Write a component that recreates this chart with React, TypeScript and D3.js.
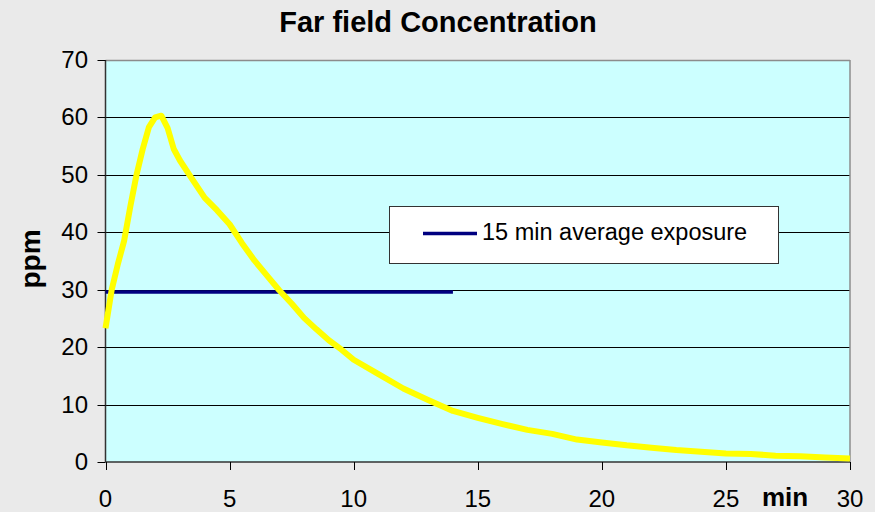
import React from "react";
import * as d3 from "d3";

// Far-field concentration over time (minutes, ppm)
const times = [0, 0.25, 0.5, 0.75, 1, 1.25, 1.5, 1.75, 2, 2.25, 2.5, 2.75, 3, 3.5, 4, 4.5, 5, 5.5, 6, 6.5, 7, 7.5, 8, 8.5, 9, 9.5, 10, 11, 12, 13, 14, 15, 16, 17, 18, 19, 20, 21, 22, 23, 24, 25, 26, 27, 28, 29, 30];
const concentration = [23.3, 30, 34.5, 38.5, 44.5, 50, 54.5, 58.3, 60, 60.3, 58.2, 54.5, 52.5, 49.2, 46, 43.8, 41.4, 38.1, 35.1, 32.5, 29.9, 27.6, 25.1, 23.1, 21.2, 19.6, 17.8, 15.3, 12.8, 10.8, 8.9, 7.7, 6.6, 5.6, 4.9, 3.9, 3.4, 2.9, 2.5, 2.1, 1.8, 1.5, 1.4, 1.1, 1.0, 0.8, 0.6];

// 15 minute average exposure
const avgTimes = [0, 14];
const avgValues = [29.6, 29.6];

const xTicks = [0, 5, 10, 15, 20, 25, 30];
const yTicks = [0, 10, 20, 30, 40, 50, 60, 70];

const W = 875;
const H = 512;
const FONT = "'Liberation Sans', Arial, sans-serif";

export default function App() {
  const x = d3.scaleLinear().domain([0, 30]).range([105.5, 850]);
  const y = d3.scaleLinear().domain([0, 70]).range([462, 60]);

  const line = d3
    .line<[number, number]>()
    .x((d) => x(d[0]))
    .y((d) => y(d[1]));

  const concPts: [number, number][] = times.map((t, i) => [t, concentration[i]]);
  const avgPts: [number, number][] = avgTimes.map((t, i) => [t, avgValues[i]]);

  const [x0, x1] = x.range();
  const [yb, yt] = y.range();

  return (
    <svg
      width={W}
      height={H}
      style={{ position: "fixed", left: 0, top: 0, display: "block" }}
      fontFamily={FONT}
    >
      <rect x={0} y={0} width={W} height={H} fill="#EAEAEA" />
      <text x={438} y={32} textAnchor="middle" fontSize={29} fontWeight="bold" fill="#000">
        Far field Concentration
      </text>

      {/* plot area */}
      <rect x={x0} y={yt} width={x1 - x0} height={yb - yt} fill="#CCFFFF" />
      {yTicks.filter((v) => v > 0 && v < 70).map((v) => (
        <line key={v} x1={x0} x2={x1} y1={Math.round(y(v)) + 0.5} y2={Math.round(y(v)) + 0.5} stroke="#000" strokeWidth={1} />
      ))}
      <line x1={x0} x2={x1} y1={yt + 0.5} y2={yt + 0.5} stroke="#8C8C8C" strokeWidth={1.5} />
      <line x1={x1} x2={x1} y1={yt} y2={yb} stroke="#8C8C8C" strokeWidth={1.5} />

      {/* axes */}
      <line x1={x0} x2={x0} y1={yt} y2={yb} stroke="#333" strokeWidth={1.5} />
      <line x1={x0} x2={x1} y1={yb} y2={yb} stroke="#333" strokeWidth={1.5} />
      {yTicks.map((v) => (
        <g key={v}>
          <line x1={x0 - 8} x2={x0} y1={Math.round(y(v)) + 0.5} y2={Math.round(y(v)) + 0.5} stroke="#000" />
          <text x={88} y={y(v) + 8} textAnchor="end" fontSize={24} fill="#000">
            {v}
          </text>
        </g>
      ))}
      {xTicks.map((v) => (
        <g key={v}>
          <line x1={Math.round(x(v)) + 0.5} x2={Math.round(x(v)) + 0.5} y1={yb} y2={yb + 8} stroke="#000" />
          <text x={x(v)} y={507} textAnchor="middle" fontSize={24} fill="#000">
            {v}
          </text>
        </g>
      ))}
      <text x={785} y={506} textAnchor="middle" fontSize={26} fontWeight="bold" fill="#000">
        min
      </text>
      <text
        transform={`translate(40,259) rotate(-90)`}
        textAnchor="middle"
        fontSize={28}
        fontWeight="bold"
        fill="#000"
      >
        ppm
      </text>

      {/* series */}
      <path d={line(avgPts) ?? ""} fill="none" stroke="#000080" strokeWidth={3.5} />
      <path d={line(concPts) ?? ""} fill="none" stroke="#FFFF00" strokeWidth={6} strokeLinejoin="round" />

      {/* legend */}
      <rect x={389.5} y={206.5} width={389} height={57} fill="#FFFFFF" stroke="#333" strokeWidth={1} />
      <line x1={423} x2={477} y1={233.5} y2={233.5} stroke="#000080" strokeWidth={3.5} />
      <text x={482} y={240} fontSize={23.5} fill="#000">
        15 min average exposure
      </text>
    </svg>
  );
}
